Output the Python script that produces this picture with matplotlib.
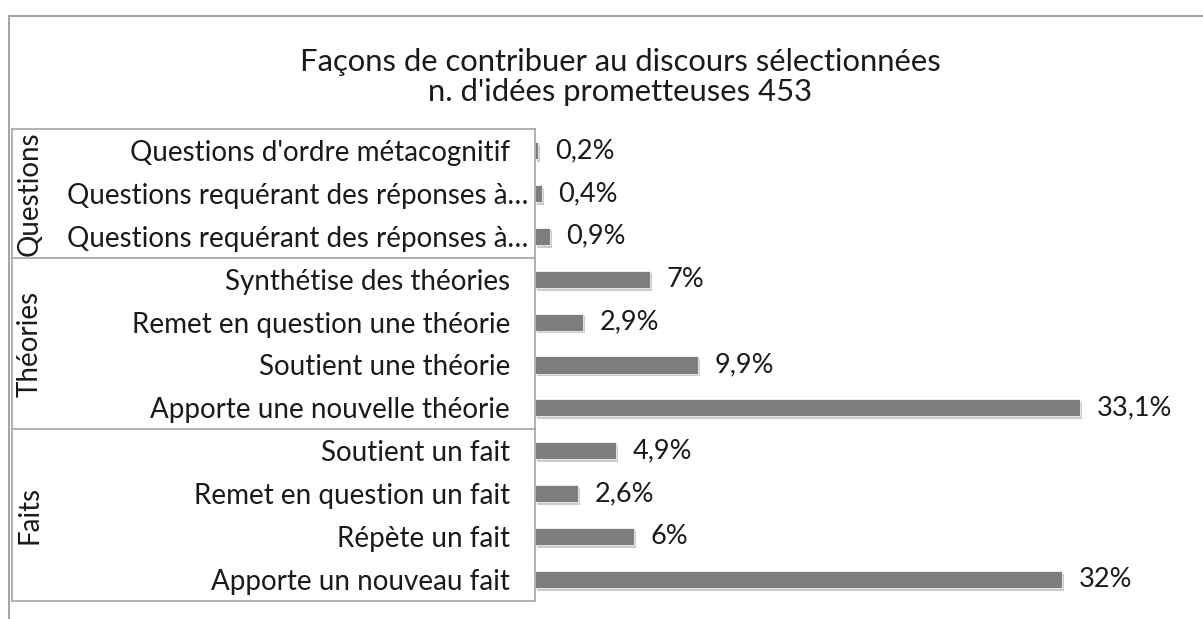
import matplotlib.pyplot as plt
import matplotlib.transforms as mtransforms
import matplotlib.patheffects as pe
from matplotlib.lines import Line2D

plt.rcParams['font.family'] = ['Lato', 'DejaVu Sans']

# data, top to bottom
categories = [
    "Questions d'ordre métacognitif",
    "Questions requérant des réponses à…",
    "Questions requérant des réponses à…",
    "Synthétise des théories",
    "Remet en question une théorie",
    "Soutient une théorie",
    "Apporte une nouvelle théorie",
    "Soutient un fait",
    "Remet en question un fait",
    "Répète un fait",
    "Apporte un nouveau fait",
]
values = [0.2, 0.4, 0.9, 7, 2.9, 9.9, 33.1, 4.9, 2.6, 6, 32]
groups = ['Questions', 'Théories', 'Faits']
group_sizes = [3, 4, 4]

W, H = 1203, 619
fig = plt.figure(figsize=(W / 100, H / 100), dpi=100)
fig.patch.set_facecolor('white')

# axes placed in pixel terms
ax_left, ax_right = 535, 1195
ax_top, ax_bottom = 129, 601
ax = fig.add_axes([ax_left / W, 1 - ax_bottom / H, (ax_right - ax_left) / W, (ax_bottom - ax_top) / H])

ypos = list(range(len(categories)))
bars = ax.barh(ypos, values, height=0.4, color='#7e7e80', edgecolor='white', linewidth=0.5)
for b in bars:
    b.set_path_effects([pe.SimplePatchShadow(offset=(1.5, -2), shadow_rgbFace='#8c8c8c', alpha=0.45), pe.Normal()])

ax.set_xlim(0, (ax_right - ax_left) / 16.46)
ax.set_ylim(len(categories) - 0.5, -0.5)
ax.set_xticks([])
ax.set_yticks(ypos)
ax.set_yticklabels(categories, fontsize=20, color='#1a1a1a')
ax.tick_params(axis='y', length=0, pad=18)
# truncated labels run closer to the axis, like the original
for i, lab in enumerate(categories):
    if lab.endswith('…'):
        ax.yaxis.get_major_ticks()[i].set_pad(5)
for s in ['top', 'right', 'bottom']:
    ax.spines[s].set_visible(False)
ax.spines['left'].set_color('#a6a6a6')
ax.spines['left'].set_linewidth(1.2)

for i, v in enumerate(values):
    txt = f"{v:g}".replace('.', ',') + '%'
    ax.annotate(txt, (v, i), xytext=(12, 0), textcoords='offset points',
                va='center', ha='left', fontsize=19.5, color='#1a1a1a')

# group labels box
blend = mtransforms.blended_transform_factory(fig.transFigure, ax.transData)
box_left = 12 / W
line_kw = dict(color='#a6a6a6', linewidth=1.2, clip_on=False)
bounds = [-0.5]
for n in group_sizes:
    bounds.append(bounds[-1] + n)
for yb in bounds:
    fig.add_artist(Line2D([box_left, ax_left / W], [yb, yb], transform=blend, **line_kw))
fig.add_artist(Line2D([box_left, box_left], [bounds[0], bounds[-1]], transform=blend, **line_kw))
for g, y0, y1 in zip(groups, bounds[:-1], bounds[1:]):
    fig.text(30 / W, (y0 + y1) / 2, g, transform=blend, rotation=90,
             ha='center', va='center', fontsize=20, color='#1a1a1a')

# outer frame
fig.add_artist(Line2D([9 / W, 9 / W], [0, 1 - 16 / H], color='#a6a6a6', linewidth=1.5))
fig.add_artist(Line2D([9 / W, 1], [1 - 16 / H, 1 - 16 / H], color='#a6a6a6', linewidth=1.5))

fig.text(620 / W, 1 - 77 / H, "Façons de contribuer au discours sélectionnées\nn. d'idées prometteuses 453",
         ha='center', va='center', fontsize=22.3, color='#1a1a1a', linespacing=1.1)

fig.savefig('out.png', dpi=100, facecolor='white')
